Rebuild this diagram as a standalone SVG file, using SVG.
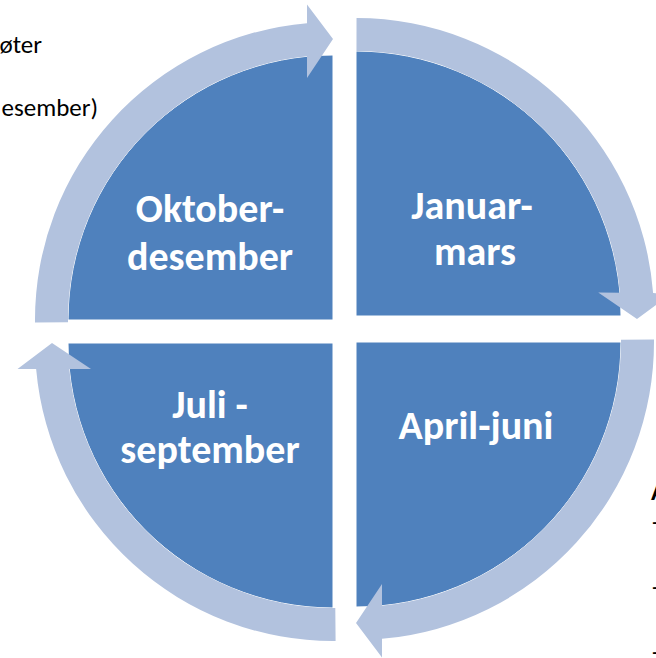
<svg xmlns="http://www.w3.org/2000/svg" width="656" height="658" viewBox="0 0 656 658">
  <style>
    .quad { fill: #4F81BD; stroke: #FFFFFF; stroke-width: 1; }
    .arrow { fill: #B2C2DE; }
    .lbl { font-family: Carlito, Lato, "Liberation Sans", sans-serif; font-weight: bold; font-size: 40px; fill: #FFFFFF; text-anchor: middle; }
    .side { font-family: Carlito, Lato, "Liberation Sans", sans-serif; font-size: 25px; fill: #000000; }
  </style>
  <defs>
    <path id="cyc-arrow" d="M -298,2.6 A 298 298 0 0 1 -26,-296.86 L -26,-315.5 L 0,-281 L -26,-242 L -26,-263.72 A 265 265 0 0 0 -265,2.3 Z"/>
  </defs>
  <rect width="656" height="658" fill="#FFFFFF"/>

  <g id="side-text">
    <text class="side" x="42" y="53" text-anchor="end">øter</text>
    <text class="side" x="98" y="116" text-anchor="end">esember)</text>
    <text class="side" x="651" y="500" font-weight="bold">A</text>
    <text class="side" x="652" y="530">-</text>
    <text class="side" x="652" y="595">-</text>
    <text class="side" x="652" y="660">-</text>
  </g>

  <g id="q-okt">
    <path class="quad" d="M333,320 L68,320 A265 265 0 0 1 333,55 Z"/>
    <text class="lbl" x="210" y="222">Oktober-</text>
    <text class="lbl" x="210" y="270">desember</text>
  </g>
  <g id="q-jan">
    <path class="quad" d="M356,316 L356,51 A265 265 0 0 1 621,316 Z"/>
    <text class="lbl" x="472" y="219">Januar-</text>
    <text class="lbl" x="475" y="265">mars</text>
  </g>
  <g id="q-apr">
    <path class="quad" d="M356,342 L621,342 A265 265 0 0 1 356,607 Z"/>
    <text class="lbl" x="476" y="439">April-juni</text>
  </g>
  <g id="q-jul">
    <path class="quad" d="M333,343 L333,608 A265 265 0 0 1 68,343 Z"/>
    <text class="lbl" x="210" y="418">Juli -</text>
    <text class="lbl" x="210" y="463">september</text>
  </g>

  <g id="connectors">
    <use href="#cyc-arrow" class="arrow" transform="translate(333,320)"/>
    <use href="#cyc-arrow" class="arrow" transform="translate(356,316) rotate(90.6)"/>
    <use href="#cyc-arrow" class="arrow" transform="translate(356,342) rotate(180)"/>
    <use href="#cyc-arrow" class="arrow" transform="translate(333,343) rotate(270)"/>
  </g>
</svg>
